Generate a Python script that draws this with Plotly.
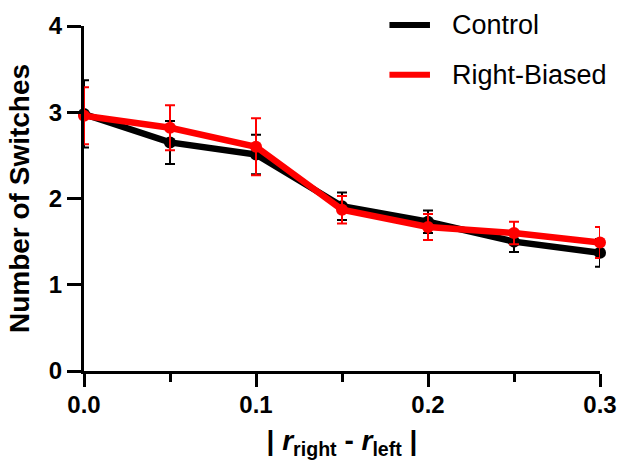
import plotly.graph_objects as go

x_vals = [0.0, 0.05, 0.10, 0.15, 0.20, 0.25, 0.30]
control_mean = [2.98, 2.65, 2.51, 1.91, 1.73, 1.50, 1.37]
control_err = [0.39, 0.25, 0.23, 0.16, 0.13, 0.12, 0.16]
biased_mean = [2.96, 2.82, 2.60, 1.87, 1.67, 1.60, 1.49]
biased_err = [0.33, 0.26, 0.33, 0.16, 0.15, 0.13, 0.18]
series_names = ["Control", "Right-Biased"]
colors = ["black", "#ff0000"]
FONT = "Liberation Sans, Arial, sans-serif"

fig = go.Figure()
for name, mean, err, col in zip(series_names, [control_mean, biased_mean],
                                [control_err, biased_err], colors):
    fig.add_trace(go.Scatter(
        x=x_vals, y=mean, mode="lines+markers", name=name,
        line=dict(color=col, width=6.5),
        marker=dict(color=col, size=12),
        error_y=dict(type="data", array=err, visible=True, color=col,
                     thickness=2, width=5),
        cliponaxis=False, showlegend=False,
    ))

# legend drawn manually
for i, (name, col) in enumerate(zip(series_names, colors)):
    yy = 22 + 50 * i
    fig.add_shape(type="line", xref="paper", yref="paper",
                  x0=(393 - 84) / 522, x1=(434 - 84) / 522,
                  y0=1 - (yy - 23) / 347, y1=1 - (yy - 23) / 347,
                  line=dict(color=col, width=6))
    fig.add_annotation(text=name, xref="paper", yref="paper",
                       x=(454 - 84) / 522, y=1 - (yy - 23) / 347,
                       xanchor="left", yanchor="middle", showarrow=False,
                       font=dict(family=FONT, size=27, color="black"))

fig.update_layout(
    width=629, height=465,
    margin=dict(l=84, r=23, t=21, b=94),
    plot_bgcolor="white", paper_bgcolor="white",
    font=dict(family=FONT, color="black"),
    xaxis=dict(
        range=[0, 0.3], dtick=0.1, tick0=0, tickformat=".1f",
        showgrid=False, zeroline=False,
        showline=True, linecolor="black", linewidth=3,
        ticks="outside", ticklen=13, tickwidth=3, tickcolor="black",
        minor=dict(dtick=0.05, ticks="outside", ticklen=8, tickwidth=3, tickcolor="black"),
        tickfont=dict(family=FONT, size=24, weight="bold"),
        ticklabelstandoff=-3,
        title=dict(text="| <i>r</i><sub>right</sub> - <i>r</i><sub>left</sub> |",
                   font=dict(family=FONT, size=28, weight="bold"), standoff=14),
    ),
    yaxis=dict(
        range=[0, 4], dtick=1, tick0=0,
        showgrid=False, zeroline=False,
        showline=True, linecolor="black", linewidth=3,
        ticks="outside", ticklen=14, tickwidth=3, tickcolor="black",
        tickfont=dict(family=FONT, size=24, weight="bold"),
        title=dict(text="Number of Switches",
                   font=dict(family=FONT, size=28, weight="bold"), standoff=12),
    ),
)

fig.write_html("out.html")
